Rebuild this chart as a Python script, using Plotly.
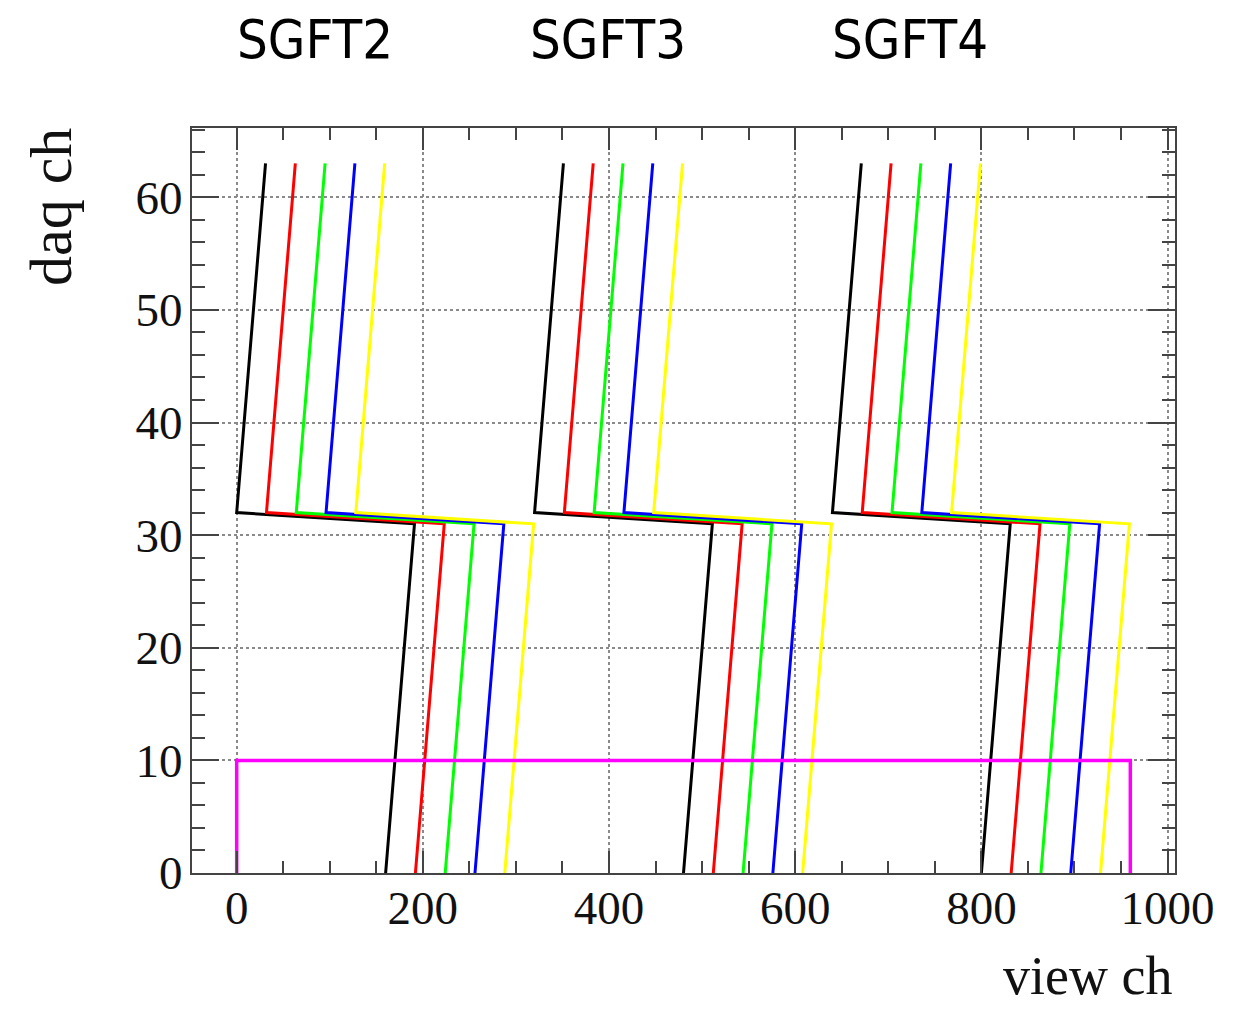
import plotly.graph_objects as go

# ---- data ----
daq_ch = [63, 32, 31, 0]  # key daq channels along each mapping line

line_colors = ["#000000", "#ff0000", "#00ff00", "#0000ff", "#ffff00"]

# view ch at daq ch 63, 32, 31, 0 for each of the five connectors (black, red, green, blue, yellow)
sgft2_view = [[31, 0, 191, 160], [63, 32, 223, 192], [95, 64, 255, 224],
              [127, 96, 287, 256], [159, 128, 319, 288]]
sgft3_view = [[351, 320, 511, 480], [383, 352, 543, 512], [415, 384, 575, 544],
              [447, 416, 607, 576], [479, 448, 639, 608]]
sgft4_view = [[671, 640, 831, 800], [703, 672, 863, 832], [735, 704, 895, 864],
              [767, 736, 927, 896], [799, 768, 959, 928]]

box_x = [0, 0, 960, 960]
box_y = [0, 10, 10, 0]

board_labels = ["SGFT2", "SGFT3", "SGFT4"]
x_ticks = [0, 200, 400, 600, 800, 1000]
y_ticks = [0, 10, 20, 30, 40, 50, 60]

# ---- figure ----
OFF = 8  # page body margin of the default html
W, H = 1241 - OFF, 1009 - OFF
L, T = 192 - OFF, 128 - OFF
R = 1241 - 1175
B = 1009 - 873
pw, ph = W - L - R, H - T - B

fig = go.Figure()
for board in (sgft2_view, sgft3_view, sgft4_view):
    for view, col in zip(board, line_colors):
        fig.add_trace(go.Scatter(x=view, y=daq_ch, mode="lines",
                                 line=dict(color=col, width=3),
                                 showlegend=False, hoverinfo="skip"))

fig.add_trace(go.Scatter(x=box_x, y=box_y, mode="lines",
                         line=dict(color="#ff00ff", width=3.5),
                         showlegend=False, hoverinfo="skip"))

serif = "Liberation Serif, Times New Roman, serif"
frame = "#444444"

fig.update_xaxes(range=[-48, 1008], tickmode="array", tickvals=x_ticks,
                 ticks="inside", ticklen=22, tickwidth=2, tickcolor=frame,
                 showline=True, linecolor=frame, linewidth=2, mirror="allticks",
                 showgrid=True, gridcolor="#8a8a8a", griddash="dot", gridwidth=1.5,
                 zeroline=False, tickfont=dict(family=serif, size=47, color="#111"),
                 ticklabelstandoff=-7,
                 minor=dict(dtick=50, tick0=0, ticks="inside", ticklen=12,
                            tickwidth=2, tickcolor=frame, showgrid=False))
fig.update_yaxes(range=[0, 66.15], tickmode="array", tickvals=y_ticks,
                 ticks="inside", ticklen=27, tickwidth=2, tickcolor=frame,
                 showline=True, linecolor=frame, linewidth=2, mirror="allticks",
                 showgrid=True, gridcolor="#8a8a8a", griddash="dot", gridwidth=1.5,
                 zeroline=False, tickfont=dict(family=serif, size=47, color="#111"),
                 ticklabelstandoff=-2,
                 minor=dict(dtick=2, tick0=0, ticks="inside", ticklen=13,
                            tickwidth=2, tickcolor=frame, showgrid=False))

# convert reference-picture pixel positions to paper coordinates
def px_x(p):
    return (p - OFF - L) / pw

def px_y(p):
    return (H - B - (p - OFF)) / ph

annotations = []
title_font = "Liberation Sans Narrow, DejaVu Sans Condensed, Arial Narrow, sans-serif"
for label, cx in zip(board_labels, [315, 608, 910]):
    annotations.append(dict(text=label, x=px_x(cx), y=px_y(40), xref="paper", yref="paper",
                            xanchor="center", yanchor="middle", showarrow=False,
                            font=dict(family=title_font, size=54, color="#000")))
annotations.append(dict(text="daq ch", x=px_x(51), y=px_y(126), xref="paper", yref="paper",
                        xanchor="center", yanchor="top", textangle=-90, showarrow=False,
                        font=dict(family=serif, size=60, color="#111")))
annotations.append(dict(text="view ch", x=px_x(1174), y=px_y(976), xref="paper", yref="paper",
                        xanchor="right", yanchor="middle", showarrow=False,
                        font=dict(family=serif, size=54, color="#111")))

fig.update_layout(width=W, height=H, margin=dict(l=L, r=R, t=T, b=B, autoexpand=False),
                  paper_bgcolor="white", plot_bgcolor="white",
                  annotations=annotations)

fig.write_html("out.html")
